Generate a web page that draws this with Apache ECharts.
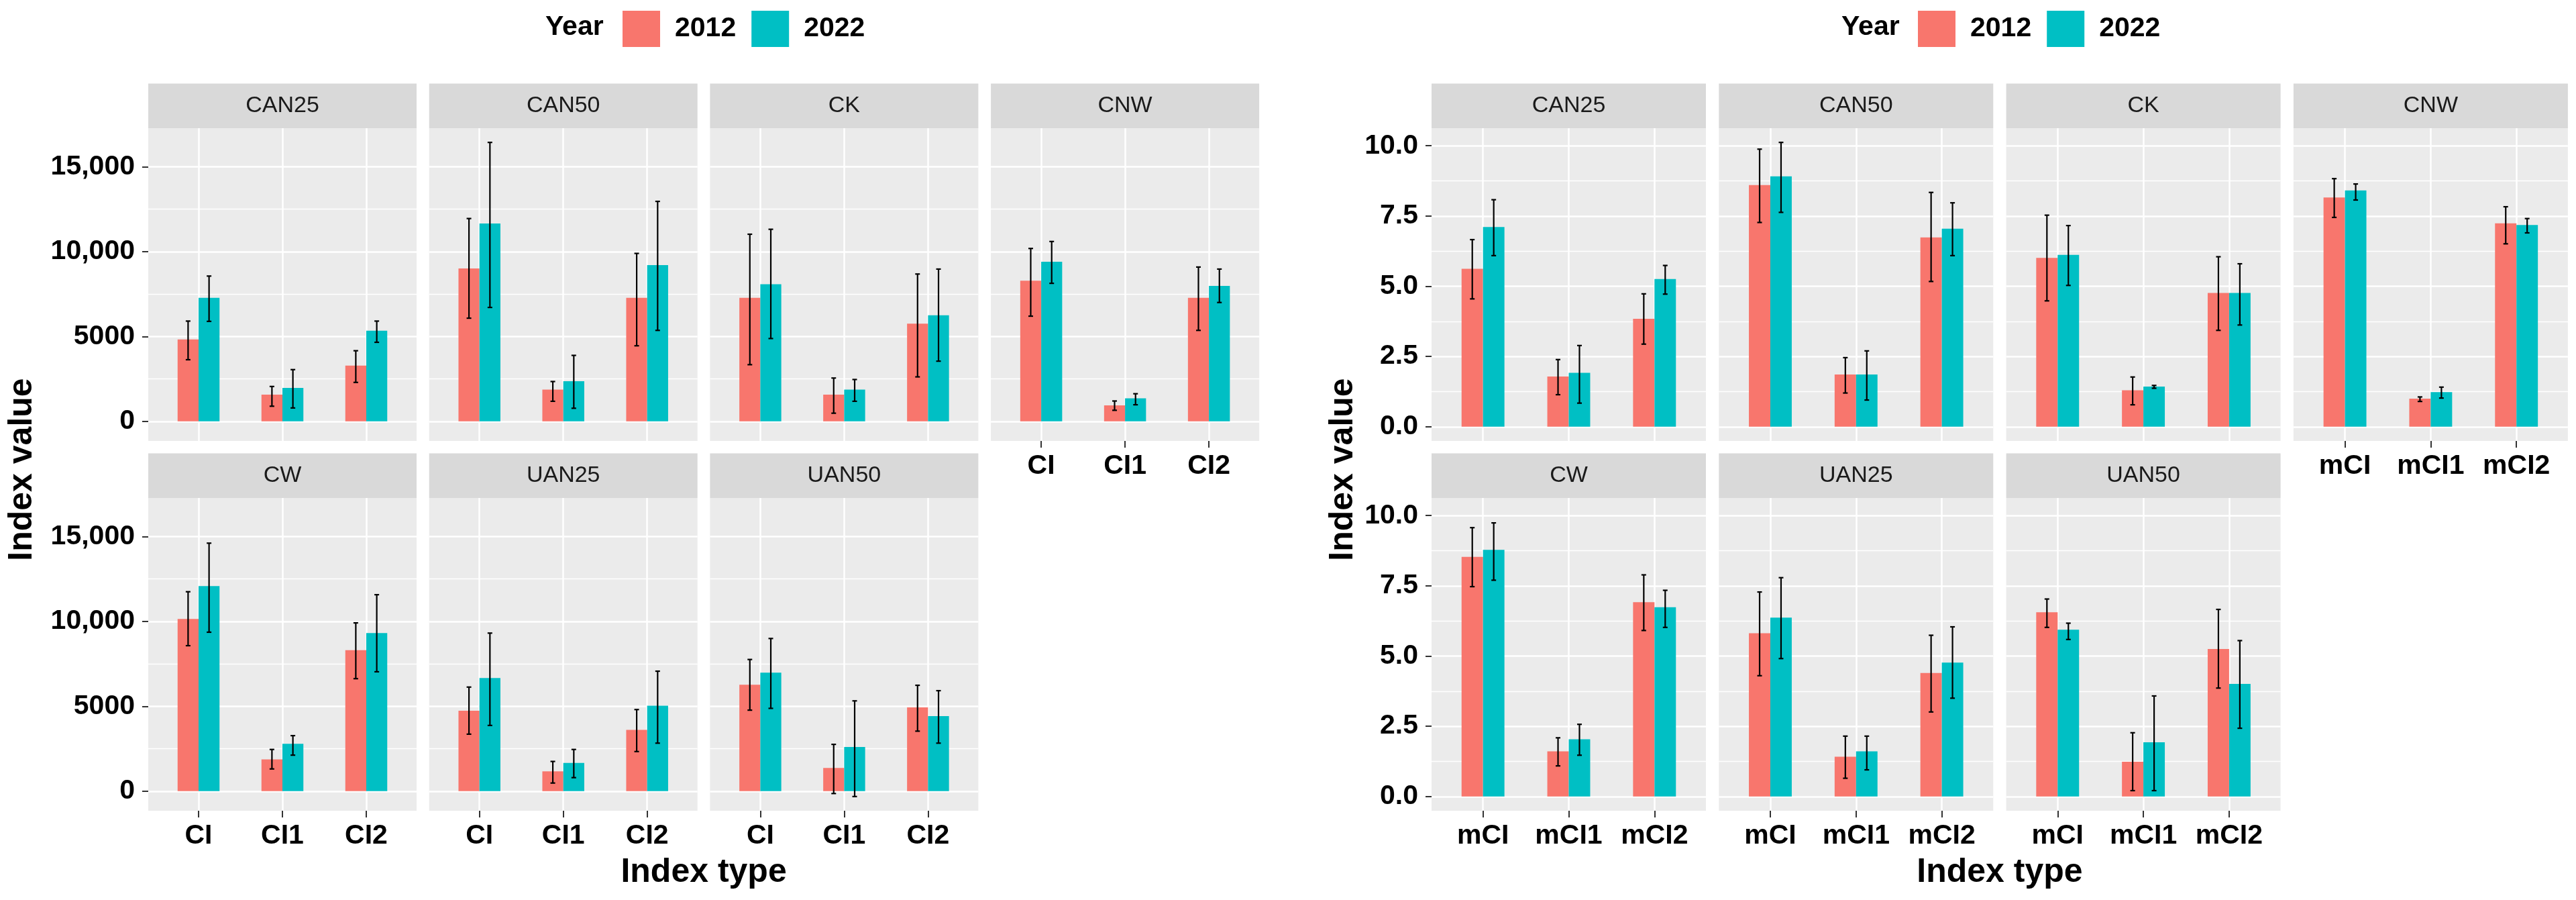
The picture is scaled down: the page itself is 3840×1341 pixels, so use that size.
<!DOCTYPE html>
<html><head><meta charset="utf-8">
<script src="https://cdn.jsdelivr.net/npm/echarts@6/dist/echarts.min.js"></script>
<style>html,body{margin:0;padding:0;background:#fff}#c{width:3840px;height:1341px}</style>
</head><body><div id="c"></div>
<script>
// ---------------- DATA ----------------
const facets = ['CAN25','CAN50','CK','CNW','CW','UAN25','UAN50'];
const years = ['2012','2022'];
const ciTypes = ['CI','CI1','CI2'];
const mciTypes = ['mCI','mCI1','mCI2'];

// CI (left chart), per facet: [CI, CI1, CI2]
const ci2012   = [[4828,1575,3287],[9005,1866,7276],[7276,1575,5752],[8286,942,7276],[10141,1873,8305],[4736,1166,3605],[6273,1361,4930]];
const ci2012Lo = [[3630,890,2294],[6078,1181,4451],[3338,479,2619],[6197,650,5359],[8570,1307,6626],[3357,477,2332],[4771,-141,3534]];
const ci2012Hi = [[5907,2054,4160],[11950,2345,9895],[11025,2551,8680],[10186,1198,9091],[11749,2456,9913],[6131,1749,4806],[7757,2756,6237]];
const ci2022   = [[7276,1969,5341],[11659,2363,9210],[8080,1866,6249],[9399,1353,7978],[12085,2792,9312],[6662,1661,5036],[6980,2597,4418]];
const ci2022Lo = [[5890,788,4657],[6711,770,5359],[4879,1181,3544],[8132,976,7002],[9364,2120,7033],[3870,795,2827],[4877,-318,2827]];
const ci2022Hi = [[8560,3047,5907],[16435,3886,12960],[11316,2465,8971],[10597,1626,8971],[14612,3269,11574],[9312,2456,7068],[8994,5319,5919]];

// mCI (right chart), per facet: [mCI, mCI1, mCI2]
const mci2012   = [[5.62,1.79,3.84],[8.60,1.86,6.74],[6.01,1.30,4.76],[8.16,1.00,7.24],[8.53,1.61,6.92],[5.81,1.42,4.40],[6.56,1.24,5.25]];
const mci2012Lo = [[4.55,1.14,2.94],[7.27,1.20,5.17],[4.48,0.78,3.43],[7.45,0.90,6.51],[7.47,1.09,5.91],[4.30,0.65,3.01],[6.02,0.21,3.86]];
const mci2012Hi = [[6.66,2.39,4.73],[9.88,2.46,8.34],[7.53,1.77,6.05],[8.83,1.06,7.83],[9.57,2.09,7.89],[7.28,2.15,5.74],[7.03,2.27,6.66]];
const mci2022   = [[7.11,1.92,5.26],[8.91,1.86,7.05],[6.12,1.43,4.76],[8.41,1.23,7.18],[8.78,2.04,6.74],[6.37,1.61,4.77],[5.94,1.93,4.01]];
const mci2022Lo = [[6.09,0.84,4.72],[7.63,0.95,6.09],[5.03,1.37,3.62],[8.07,1.02,6.90],[7.70,1.47,6.02],[4.91,0.95,3.50],[5.59,0.21,2.43]];
const mci2022Hi = [[8.08,2.89,5.74],[10.12,2.70,7.97],[7.16,1.47,5.80],[8.64,1.41,7.41],[9.74,2.57,7.34],[7.79,2.15,6.04],[6.17,3.58,5.55]];

// tick labels
const ciTickValues  = [0, 5000, 10000, 15000];
const ciTickLabels  = ['0', '5000', '10,000', '15,000'];
const ciMinorTicks  = [2500, 7500, 12500];
const mciTickValues = [0, 2.5, 5, 7.5, 10];
const mciTickLabels = ['0.0', '2.5', '5.0', '7.5', '10.0'];
const mciMinorTicks = [1.25, 3.75, 6.25, 8.75];

// ---------------- STYLE / LAYOUT ----------------
const FONT = '"Liberation Sans", Arial, sans-serif';
const COLORS = ['#F8766D', '#00BFC4'];
const BAR_W = 0.25;          // bar width in x units (dodged pair = 0.5)
const X_EXPAND = 0.6;        // ggplot discrete expansion
const rowTop = [191, 742];
const panelH = 466;
const stripH = 66.5;

const sides = [
  { types: ciTypes, vals: [ci2012, ci2022], los: [ci2012Lo, ci2022Lo], his: [ci2012Hi, ci2022Hi],
    ticks: ciTickValues, tickLabels: ciTickLabels, minor: ciMinorTicks,
    x0: 221, step: 418.7, w: 400, legendLeft: 923, yearLeft: 813, yTitleX: 33 },
  { types: mciTypes, vals: [mci2012, mci2022], los: [mci2012Lo, mci2022Lo], his: [mci2012Hi, mci2022Hi],
    ticks: mciTickValues, tickLabels: mciTickLabels, minor: mciMinorTicks,
    x0: 2134, step: 428.3, w: 409, legendLeft: 2854, yearLeft: 2745, yTitleX: 2002 }
];

function yRange(side) {
  const lows = [0].concat(side.los.flat(2));
  const highs = side.his.flat(2);
  const mn = Math.min(...lows), mx = Math.max(...highs);
  const pad = (mx - mn) * 0.05;
  return [mn - pad, mx + pad];
}

const grid = [], xAxis = [], yAxis = [], series = [], graphic = [], legend = [];

sides.forEach((side, s) => {
  const yr = yRange(side);
  const catPos = side.types.map((t, j) => j + 1);
  facets.forEach((f, i) => {
    const row = i < 4 ? 0 : 1, col = i % 4;
    const gx = side.x0 + col * side.step, gy = rowTop[row];
    const g = grid.length;
    grid.push({ left: gx, top: gy, width: side.w, height: panelH, show: true,
      backgroundColor: '#EBEBEB', borderWidth: 0, containLabel: false });
    const showX = row === 1 || col === 3;
    const showY = col === 0;
    xAxis.push({ type: 'value', gridIndex: g, min: 1 - X_EXPAND, max: side.types.length + X_EXPAND,
      axisLine: { show: false, onZero: false },
      axisTick: { show: showX, length: 10, lineStyle: { color: '#333', width: 2 }, customValues: catPos },
      axisLabel: { show: showX, customValues: catPos, formatter: v => side.types[Math.round(v) - 1],
        margin: 17, fontSize: 41, fontWeight: 'bold', color: '#000', fontFamily: FONT },
      splitLine: { show: true, lineStyle: { color: '#fff', width: 2.5 } } });
    yAxis.push({ type: 'value', gridIndex: g, min: yr[0], max: yr[1], position: 'left',
      axisLine: { show: false },
      axisTick: { show: showY, length: 9, lineStyle: { color: '#333', width: 2 }, customValues: side.ticks },
      axisLabel: { show: showY, customValues: side.ticks,
        formatter: v => side.tickLabels[side.ticks.indexOf(v)],
        margin: 20, fontSize: 41, fontWeight: 'bold', color: '#000', fontFamily: FONT },
      splitLine: { show: true, lineStyle: { color: '#fff', width: 2.5 } } });
    yAxis.push({ type: 'value', gridIndex: g, min: yr[0], max: yr[1], position: 'left',
      axisLine: { show: false },
      axisTick: { show: false, customValues: side.minor },
      axisLabel: { show: false, customValues: side.minor },
      splitLine: { show: true, lineStyle: { color: '#fff', width: 1.3 } } });

    years.forEach((yname, k) => {
      series.push({ type: 'bar', name: yname, xAxisIndex: g, yAxisIndex: 2 * g,
        barWidth: (BAR_W * 100) + '%', barGap: '0%',
        itemStyle: { color: COLORS[k] }, silent: true, animation: false,
        data: side.types.map((t, j) => [j + 1, side.vals[k][i][j]]) });
    });
    years.forEach((yname, k) => {
      const dir = k === 0 ? -0.5 : 0.5;
      series.push({ type: 'custom', name: 'err' + yname, xAxisIndex: g, yAxisIndex: 2 * g,
        silent: true, animation: false, z: 5,
        encode: { x: 0, y: [1, 2] },
        data: side.types.map((t, j) => [j + 1, side.los[k][i][j], side.his[k][i][j]]),
        renderItem: (params, api) => {
          const x = api.value(0);
          const p1 = api.coord([x, api.value(1)]);
          const p2 = api.coord([x, api.value(2)]);
          const bw = api.size([BAR_W, 0])[0];
          const cx = p1[0] + dir * bw;
          const cap = 3.5;
          const st = { stroke: '#000', lineWidth: 2.2 };
          return { type: 'group', children: [
            { type: 'line', shape: { x1: cx, y1: p1[1], x2: cx, y2: p2[1] }, style: st },
            { type: 'line', shape: { x1: cx - cap, y1: p1[1], x2: cx + cap, y2: p1[1] }, style: st },
            { type: 'line', shape: { x1: cx - cap, y1: p2[1], x2: cx + cap, y2: p2[1] }, style: st }
          ] };
        } });
    });

    // facet strip
    graphic.push({ type: 'rect', silent: true,
      shape: { x: gx, y: gy - stripH, width: side.w, height: stripH }, style: { fill: '#D9D9D9' } });
    graphic.push({ type: 'text', silent: true, x: gx + side.w / 2, y: gy - stripH / 2,
      style: { text: f, fontSize: 34, fontFamily: FONT, fill: '#1A1A1A', align: 'center', verticalAlign: 'middle' } });
  });

  const areaLeft = side.x0, areaRight = side.x0 + 3 * side.step + side.w;
  // axis titles
  graphic.push({ type: 'text', silent: true, x: (areaLeft + areaRight) / 2, y: 1300,
    style: { text: 'Index type', fontSize: 50, fontWeight: 'bold', fontFamily: FONT, fill: '#000',
      align: 'center', verticalAlign: 'middle' } });
  graphic.push({ type: 'text', silent: true, x: side.yTitleX, y: (rowTop[0] + rowTop[1] + panelH) / 2,
    rotation: Math.PI / 2,
    style: { text: 'Index value', fontSize: 50, fontWeight: 'bold', fontFamily: FONT, fill: '#000',
      align: 'center', verticalAlign: 'middle' } });
  // legend title
  graphic.push({ type: 'text', silent: true, x: side.yearLeft, y: 41,
    style: { text: 'Year', fontSize: 41, fontWeight: 'bold', fontFamily: FONT, fill: '#000',
      align: 'left', verticalAlign: 'middle' } });
  legend.push({ left: side.legendLeft, top: 11, orient: 'horizontal', data: years,
    icon: 'rect', itemWidth: 56, itemHeight: 54, itemGap: 23, selectedMode: false,
    textStyle: { fontSize: 41, fontWeight: 'bold', fontFamily: FONT, color: '#000', padding: [0, 0, 0, 17] } });
});

const chart = echarts.init(document.getElementById('c'), null, { renderer: 'canvas', width: 3840, height: 1341, devicePixelRatio: 1 });
chart.setOption({ animation: false, backgroundColor: '#fff', grid, xAxis, yAxis, series, graphic, legend });
</script></body></html>
